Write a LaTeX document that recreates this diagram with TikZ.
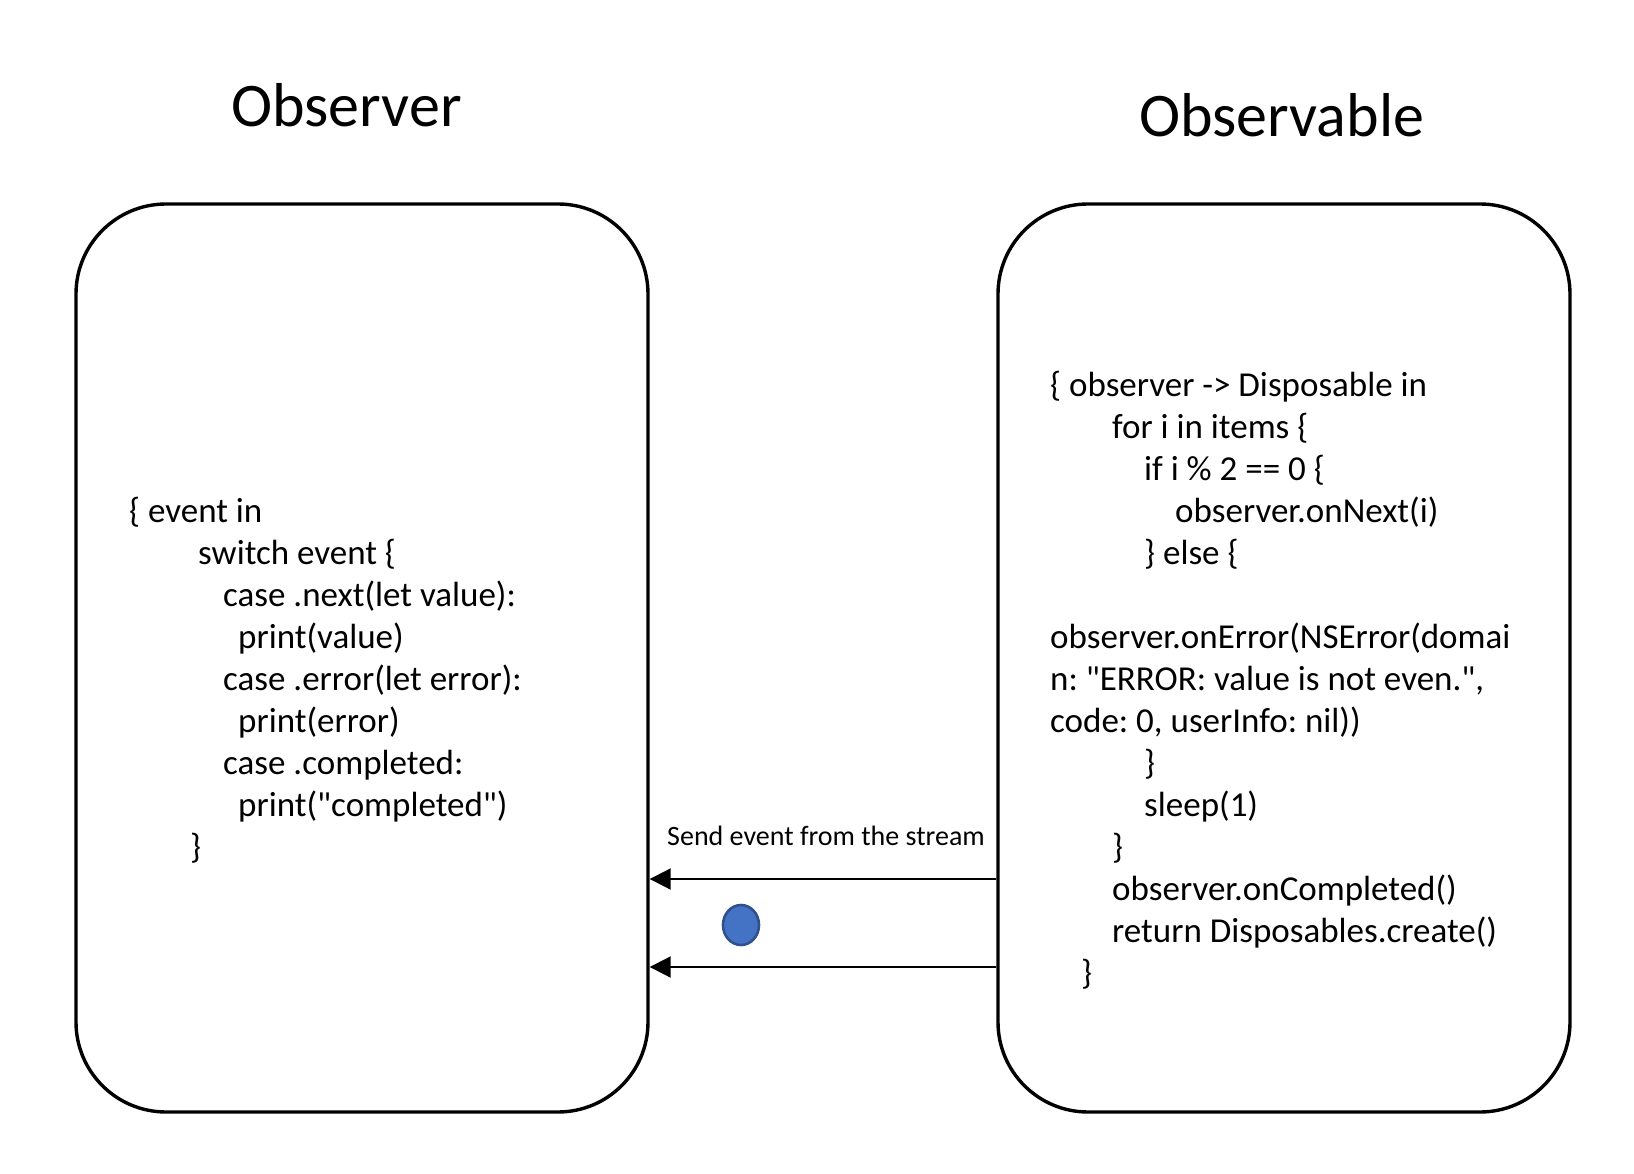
\documentclass[tikz,border=0pt]{standalone}
\usepackage{fontspec}
\setmainfont{Carlito}[Ligatures=TeXOff]
\usetikzlibrary{arrows.meta,shapes.geometric}
\definecolor{dotfill}{HTML}{4472C4}
\definecolor{dotline}{HTML}{2F528F}
\begin{document}
\frenchspacing
\begin{tikzpicture}[x=1pt,y=-1pt,
  panel/.style={draw=black, line width=3.4pt, rounded corners=90pt, minimum width=572pt, minimum height=908pt, inner sep=0pt},
  title/.style={anchor=base west, inner sep=0pt, font=\fontsize{62}{74}\selectfont},
  code/.style={anchor=base west, inner sep=0pt, font=\fontsize{35}{42}\selectfont},
  lbl/.style={anchor=base west, inner sep=0pt, font=\fontsize{28}{33}\selectfont},
  arr/.style={line width=2pt, -{Triangle[length=21pt,width=21pt]}},
  dot/.style={ellipse, draw=dotline, fill=dotfill, line width=2.6pt, minimum width=36pt, minimum height=40pt, inner sep=0pt}
]
\useasboundingbox (0,0) rectangle (1634,1174);
\fill[white] (0,0) rectangle (1634,1174);

\node[title] (tobs) at (231,127) {Observer};
\node[title] (tobv) at (1139,137) {Observable};

\node[panel] (obs) at (362,658) {};
\node[panel] (obv) at (1284,658) {};

% Observer code
\node[code] (l1) at (129,522) {\{ event in};
\node[code] (l2) at (198,564) {switch event \{};
\node[code] (l3) at (223,606) {case .next(let value):};
\node[code] (l4) at (238,648) {print(value)};
\node[code] (l5) at (223,690) {case .error(let error):};
\node[code] (l6) at (238,732) {print(error)};
\node[code] (l7) at (223,774) {case .completed:};
\node[code] (l8) at (238,816) {print("completed")};
\node[code] (l9) at (190,858) {\}};

% Observable code
\node[code] (r1) at (1050,396) {\{ observer -> Disposable in};
\node[code] (r2) at (1112,438) {for i in items \{};
\node[code] (r3) at (1144,480) {if i \% 2 == 0 \{};
\node[code] (r4) at (1175,522) {observer.onNext(i)};
\node[code] (r5) at (1144,564) {\} else \{};
\node[code] (r6) at (1050,648) {observer.onError(NSError(domai};
\node[code] (r7) at (1050,690) {n: "ERROR: value is not even.",};
\node[code] (r8) at (1050,732) {code: 0, userInfo: nil))};
\node[code] (r9) at (1144,774) {\}};
\node[code] (r10) at (1144,816) {sleep(1)};
\node[code] (r11) at (1112,858) {\}};
\node[code] (r12) at (1112,900) {observer.onCompleted()};
\node[code] (r13) at (1112,942) {return Disposables.create()};
\node[code] (r14) at (1081,984) {\}};

% connectors
\coordinate (ya) at (0,879);
\coordinate (yb) at (0,967);
\draw[arr] (obv.west |- ya) -- (obs.east |- ya);
\draw[arr] (obv.west |- yb) -- (obs.east |- yb);
\node[lbl] (send) at (667,845) {Send event from the stream};
\node[dot] (ev) at (741,925) {};
\end{tikzpicture}
\end{document}
